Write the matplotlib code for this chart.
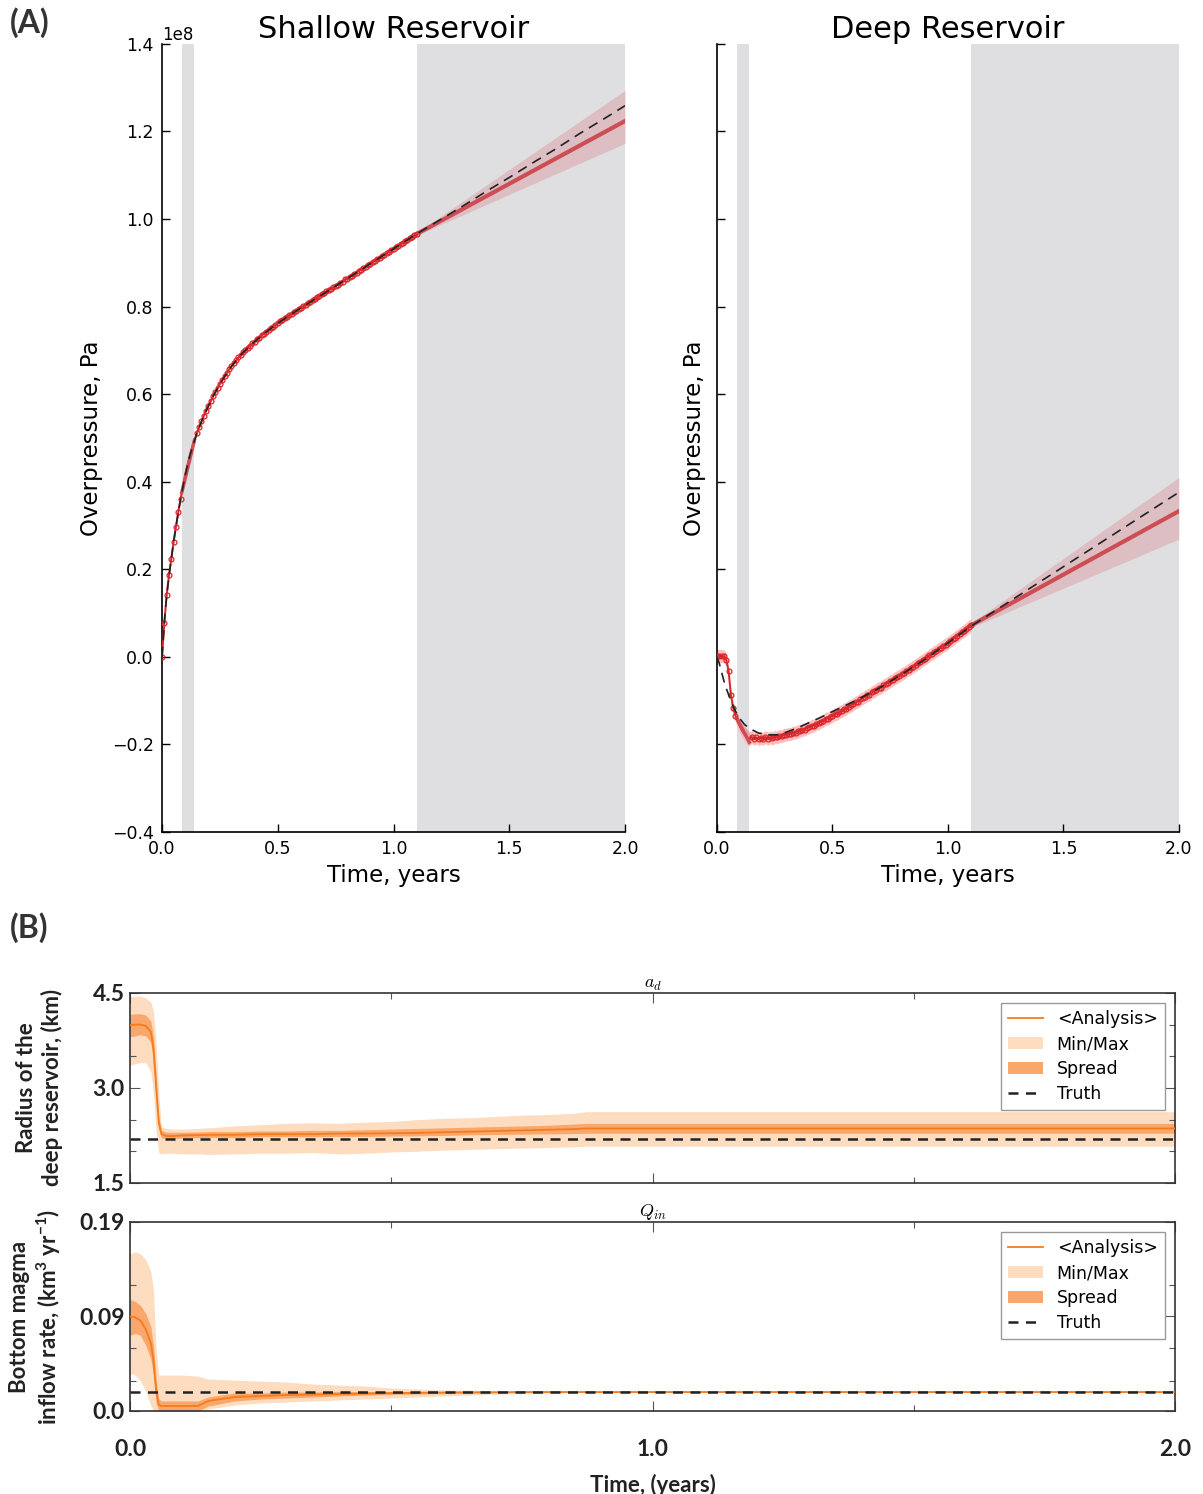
import numpy as np
import matplotlib
matplotlib.use('Agg')
import matplotlib.pyplot as plt
from matplotlib.patches import Patch
from matplotlib.lines import Line2D
from matplotlib.ticker import FixedLocator, FixedFormatter

plt.rcParams['mathtext.fontset'] = 'cm'

# ---------------- Panel A data (overpressure in units of 1e8 Pa) ----------------
PA_SCALE = 1e8
gap_window = [0.085, 0.14]
forecast_window = [1.1, 2.0]

t_truth = [0.0, 0.01, 0.02, 0.03, 0.04, 0.05, 0.06, 0.08, 0.10, 0.12, 0.15, 0.18, 0.22, 0.26,
           0.30, 0.35, 0.40, 0.45, 0.50, 0.60, 0.70, 0.80, 0.90, 1.00, 1.10,
           1.20, 1.30, 1.40, 1.50, 1.60, 1.70, 1.80, 1.90, 2.00]
shallow_truth = [0.0, 0.080, 0.140, 0.185, 0.225, 0.262, 0.298, 0.360, 0.415, 0.460, 0.510, 0.550,
                 0.595, 0.632, 0.664, 0.695, 0.720, 0.742, 0.762, 0.797, 0.830, 0.864, 0.898,
                 0.932, 0.966, 0.998, 1.030, 1.063, 1.095, 1.128, 1.160, 1.194, 1.226, 1.259]
deep_truth = [0.0, -0.015, -0.035, -0.055, -0.072, -0.086, -0.100, -0.124, -0.142, -0.155, -0.166,
              -0.174, -0.178, -0.178, -0.172, -0.162, -0.150, -0.138, -0.125, -0.100, -0.072,
              -0.040, -0.006, 0.032, 0.070, 0.104, 0.138, 0.172, 0.206, 0.240, 0.274, 0.308,
              0.342, 0.376]

t_est = [round(0.01 * i, 2) for i in range(111)]
shallow_est = [0.000, 0.078, 0.141, 0.186, 0.224, 0.263, 0.297, 0.331, 0.361, 0.389,
               0.416, 0.439, 0.460, 0.479, 0.495, 0.511, 0.524, 0.538, 0.550, 0.562,
               0.574, 0.584, 0.595, 0.605, 0.614, 0.624, 0.632, 0.641, 0.648, 0.657,
               0.664, 0.671, 0.677, 0.684, 0.689, 0.696, 0.700, 0.706, 0.710, 0.716,
               0.720, 0.726, 0.729, 0.735, 0.738, 0.743, 0.746, 0.751, 0.754, 0.759,
               0.762, 0.767, 0.769, 0.774, 0.776, 0.781, 0.783, 0.788, 0.790, 0.795,
               0.797, 0.801, 0.804, 0.808, 0.810, 0.815, 0.817, 0.821, 0.824, 0.828,
               0.830, 0.835, 0.837, 0.841, 0.844, 0.848, 0.850, 0.855, 0.857, 0.862,
               0.864, 0.868, 0.870, 0.875, 0.877, 0.882, 0.884, 0.888, 0.891, 0.896,
               0.898, 0.902, 0.905, 0.909, 0.911, 0.916, 0.918, 0.922, 0.925, 0.930,
               0.932, 0.936, 0.939, 0.943, 0.945, 0.950, 0.952, 0.956, 0.959, 0.964,
               0.966]
deep_est = [0.002, 0.002, 0.002, 0.001, -0.006, -0.032, -0.086, -0.117, -0.134, -0.148,
            -0.160, -0.170, -0.178, -0.185, -0.187, -0.183, -0.187, -0.184, -0.188, -0.185,
            -0.187, -0.183, -0.187, -0.184, -0.186, -0.183, -0.184, -0.181, -0.181, -0.178,
            -0.178, -0.176, -0.176, -0.173, -0.173, -0.170, -0.169, -0.166, -0.166, -0.162,
            -0.161, -0.158, -0.157, -0.153, -0.152, -0.148, -0.146, -0.141, -0.141, -0.137,
            -0.135, -0.131, -0.130, -0.126, -0.124, -0.120, -0.118, -0.114, -0.111, -0.108,
            -0.104, -0.102, -0.097, -0.095, -0.091, -0.088, -0.086, -0.081, -0.079, -0.075,
            -0.072, -0.070, -0.065, -0.063, -0.059, -0.056, -0.053, -0.049, -0.046, -0.043,
            -0.039, -0.037, -0.032, -0.029, -0.026, -0.022, -0.019, -0.015, -0.011, -0.008,
            -0.004, -0.001, 0.004, 0.007, 0.011, 0.014, 0.018, 0.021, 0.025, 0.028,
            0.032, 0.036, 0.040, 0.044, 0.048, 0.052, 0.056, 0.060, 0.064, 0.068,
            0.072]
shallow_est_halfwidth = 0.005
deep_est_halfwidth = 0.015

t_fc = [1.1, 2.0]
shallow_fc = [0.966, 1.224]
shallow_fc_lo = [0.963, 1.173]
shallow_fc_hi = [0.969, 1.294]
deep_fc = [0.072, 0.333]
deep_fc_lo = [0.067, 0.269]
deep_fc_hi = [0.077, 0.410]

gap_t = [0.085, 0.14]
deep_gap = [-0.140, -0.195]
deep_gap_lo = [-0.140, -0.205]
deep_gap_hi = [-0.140, -0.170]
shallow_gap = [0.375, 0.495]
shallow_gap_lo = [0.372, 0.488]
shallow_gap_hi = [0.378, 0.502]

yticks_A = [-0.4, -0.2, 0.0, 0.2, 0.4, 0.6, 0.8, 1.0, 1.2, 1.4]
xticks_A = [0.0, 0.5, 1.0, 1.5, 2.0]

# ---------------- Panel B data ----------------
tb = [0.0, 0.01, 0.02, 0.03, 0.04, 0.045, 0.05, 0.055, 0.06, 0.07, 0.08, 0.10, 0.13, 0.15,
      0.20, 0.25, 0.30, 0.35, 0.40, 0.45, 0.50, 0.55, 0.60, 0.65, 0.70, 0.75, 0.80, 0.85,
      0.875, 0.90, 1.00, 1.20, 1.40, 1.60, 1.80, 2.00]
a_mean = [3.99, 4.00, 4.00, 3.98, 3.88, 3.60, 3.00, 2.45, 2.27, 2.24, 2.24, 2.25, 2.255, 2.26,
          2.26, 2.27, 2.27, 2.27, 2.28, 2.28, 2.285, 2.29, 2.30, 2.31, 2.32, 2.33, 2.34, 2.35,
          2.36, 2.36, 2.36, 2.36, 2.36, 2.36, 2.36, 2.36]
a_sp_lo = [3.81, 3.82, 3.84, 3.82, 3.72, 3.40, 2.80, 2.35, 2.21, 2.20, 2.20, 2.21, 2.215, 2.22,
           2.22, 2.23, 2.23, 2.23, 2.235, 2.235, 2.24, 2.245, 2.25, 2.26, 2.265, 2.27, 2.275,
           2.28, 2.285, 2.285, 2.285, 2.285, 2.285, 2.285, 2.285, 2.285]
a_sp_hi = [4.16, 4.17, 4.17, 4.15, 4.05, 3.80, 3.20, 2.55, 2.33, 2.30, 2.30, 2.30, 2.305, 2.31,
           2.31, 2.32, 2.32, 2.33, 2.33, 2.34, 2.35, 2.36, 2.37, 2.38, 2.39, 2.40, 2.41, 2.43,
           2.44, 2.44, 2.44, 2.44, 2.44, 2.44, 2.44, 2.44]
a_min = [3.36, 3.38, 3.40, 3.40, 3.25, 2.90, 2.30, 1.98, 1.96, 1.97, 1.97, 1.96, 1.96, 1.95,
         1.96, 1.97, 1.97, 1.98, 1.96, 1.97, 1.99, 2.00, 2.02, 2.03, 2.04, 2.05, 2.06, 2.07,
         2.08, 2.08, 2.08, 2.08, 2.08, 2.08, 2.08, 2.08]
a_max = [4.44, 4.45, 4.45, 4.42, 4.35, 4.20, 3.70, 2.90, 2.38, 2.36, 2.35, 2.35, 2.36, 2.37,
         2.40, 2.42, 2.44, 2.45, 2.44, 2.46, 2.47, 2.50, 2.52, 2.53, 2.55, 2.57, 2.58, 2.60,
         2.625, 2.625, 2.625, 2.625, 2.625, 2.625, 2.625, 2.625]
a_truth = 2.19

q_mean = [0.095, 0.094, 0.091, 0.082, 0.068, 0.050, 0.020, 0.006, 0.005, 0.005, 0.005, 0.005,
          0.005, 0.010, 0.014, 0.015, 0.016, 0.0165, 0.017, 0.0175, 0.018, 0.0182, 0.0185,
          0.0187, 0.0188, 0.019, 0.019, 0.019, 0.019, 0.019, 0.019, 0.019, 0.019, 0.019,
          0.019, 0.019]
q_sp_lo = [0.076, 0.078, 0.076, 0.066, 0.052, 0.035, 0.008, 0.0, 0.0, 0.0, 0.0, 0.0, 0.0,
           0.005, 0.010, 0.012, 0.013, 0.014, 0.015, 0.016, 0.0165, 0.017, 0.0175, 0.018,
           0.0183, 0.0185, 0.0187, 0.0188, 0.0188, 0.0188, 0.0188, 0.0188, 0.0188, 0.0188,
           0.0188, 0.0188]
q_sp_hi = [0.112, 0.110, 0.106, 0.098, 0.084, 0.065, 0.032, 0.012, 0.010, 0.010, 0.010, 0.010,
           0.010, 0.014, 0.018, 0.018, 0.019, 0.019, 0.0195, 0.0195, 0.0195, 0.0195, 0.0195,
           0.0195, 0.0194, 0.0193, 0.0192, 0.0192, 0.0192, 0.0192, 0.0192, 0.0192, 0.0192,
           0.0192, 0.0192, 0.0192]
q_min = [0.038, 0.036, 0.030, 0.020, 0.005, 0.0, 0.0, 0.0, 0.0, 0.0, 0.0, 0.0, 0.0, 0.002,
         0.006, 0.008, 0.009, 0.010, 0.011, 0.012, 0.013, 0.014, 0.015, 0.016, 0.017, 0.0175,
         0.018, 0.0183, 0.0185, 0.0185, 0.0185, 0.0185, 0.0185, 0.0185, 0.0185, 0.0185]
q_max = [0.158, 0.160, 0.158, 0.152, 0.140, 0.120, 0.060, 0.036, 0.036, 0.036, 0.036, 0.036,
         0.035, 0.032, 0.031, 0.030, 0.029, 0.027, 0.026, 0.025, 0.023, 0.022, 0.021, 0.021,
         0.020, 0.020, 0.0198, 0.0196, 0.0195, 0.0195, 0.0195, 0.0195, 0.0195, 0.0195,
         0.0195, 0.0195]
q_truth = 0.019

a_ticks = [1.5, 3.0, 4.5]
a_ticklabels = ['1.5', '3.0', '4.5']
a_minor = [2.0, 2.5, 3.5, 4.0]
q_ticks = [0.0, 0.095, 0.19]
q_ticklabels = ['0.0', '0.09', '0.19']
q_minor = [0.03, 0.063, 0.127]
xticks_B = [0.0, 1.0, 2.0]
xticklabels_B = ['0.0', '1.0', '2.0']
xminor_B = [0.5, 1.5]

legend_labels = ['<Analysis>', 'Min/Max', 'Spread', 'Truth']

# ---------------- styles ----------------
GRAY = '#dfdfe2'
RED = '#d9262c'
RED_BAND = '#ffb0b0'
FC_RED = '#cc4e54'
FC_BAND = '#d9838a'
OR_LINE = '#f47b20'
OR_LIGHT = '#fddcbf'
OR_SPREAD = '#f9a76a'
BFONT = 'Lato'

fig = plt.figure(figsize=(12.03, 14.94), dpi=100)

axA1 = fig.add_axes([0.1347, 0.4431, 0.3849, 0.5275])
axA2 = fig.add_axes([0.5960, 0.4431, 0.3840, 0.5275], sharey=axA1)

def draw_A(ax, truth, est, hw, gap_v, gap_lo, gap_hi, fc, fc_lo, fc_hi, title):
    ax.axvspan(gap_window[0], gap_window[1], color=GRAY, lw=0, zorder=0)
    ax.axvspan(forecast_window[0], forecast_window[1], color=GRAY, lw=0, zorder=0)
    s = PA_SCALE
    te = np.array(t_est)
    ev = np.array(est)
    ax.fill_between(te, (ev - hw) * s, (ev + hw) * s, color=RED_BAND, alpha=0.8, lw=0, zorder=2)
    mask = (te < gap_window[0]) | (te > gap_window[1])
    ax.plot(te, ev * s, color=RED, lw=1.4, zorder=3)
    idx = [i for i in range(len(te)) if mask[i]]
    ax.plot(te, ev * s, ls='none', marker='o', ms=3.5, mfc='none', mec=RED, mew=0.9,
            markevery=idx, zorder=4)
    ax.fill_between(gap_t, np.array(gap_lo) * s, np.array(gap_hi) * s, color=FC_BAND,
                    alpha=0.5, lw=0, zorder=3)
    ax.plot(gap_t, np.array(gap_v) * s, color=FC_RED, lw=2.5, zorder=3)
    ax.fill_between(t_fc, np.array(fc_lo) * s, np.array(fc_hi) * s, color=FC_BAND,
                    alpha=0.35, lw=0, zorder=2)
    ax.plot(t_fc, np.array(fc) * s, color=FC_RED, lw=3, zorder=3)
    ax.plot(t_truth, np.array(truth) * s, color='#222222', ls=(0, (6, 4)), lw=1.2, zorder=5)
    ax.set_xlim(0, 2.0)
    ax.set_ylim(-0.4 * s, 1.4 * s)
    ax.set_xticks(xticks_A)
    ax.set_yticks([v * s for v in yticks_A])
    for sp in ['top', 'right']:
        ax.spines[sp].set_visible(False)
    ax.spines['left'].set_linewidth(1.2)
    ax.spines['bottom'].set_linewidth(1.2)
    ax.tick_params(direction='in', length=6, width=1, labelsize=12.5, top=False, right=False,
                   pad=6)
    ax.set_title(title, fontsize=22, pad=3)
    ax.set_xlabel('Time, years', fontsize=16.5, labelpad=4)
    ax.set_ylabel('Overpressure, Pa', fontsize=16.5, labelpad=6)

draw_A(axA1, shallow_truth, shallow_est, shallow_est_halfwidth, shallow_gap, shallow_gap_lo,
       shallow_gap_hi, shallow_fc, shallow_fc_lo, shallow_fc_hi, 'Shallow Reservoir')
draw_A(axA2, deep_truth, deep_est, deep_est_halfwidth, deep_gap, deep_gap_lo, deep_gap_hi,
       deep_fc, deep_fc_lo, deep_fc_hi, 'Deep Reservoir')
axA1.yaxis.offsetText.set_fontsize(12)
axA2.tick_params(labelleft=False)
axA2.yaxis.offsetText.set_visible(False)
axA2.set_ylabel('Overpressure, Pa', fontsize=16.5, labelpad=8)

# ---------------- Panel B ----------------
axB1 = fig.add_axes([0.1081, 0.2082, 0.8687, 0.1272])
axB2 = fig.add_axes([0.1081, 0.0556, 0.8687, 0.1265])

def draw_B(ax, mn, mx, lo, hi, mean, truth, ylim, ticks, ticklabels, minor, title, ylabel,
           show_x):
    ax.fill_between(tb, mn, mx, color=OR_LIGHT, lw=0, zorder=1)
    ax.fill_between(tb, lo, hi, color=OR_SPREAD, lw=0, zorder=2)
    ax.plot(tb, mean, color=OR_LINE, lw=1.3, zorder=3)
    ax.axhline(truth, color='#222222', ls=(0, (4, 3)), lw=1.8, zorder=4)
    ax.set_xlim(0, 2.0)
    ax.set_ylim(*ylim)
    ax.yaxis.set_major_locator(FixedLocator(ticks))
    ax.yaxis.set_major_formatter(FixedFormatter(ticklabels))
    ax.yaxis.set_minor_locator(FixedLocator(minor))
    ax.xaxis.set_major_locator(FixedLocator(xticks_B))
    ax.xaxis.set_minor_locator(FixedLocator(xminor_B))
    ax.xaxis.set_major_formatter(FixedFormatter(xticklabels_B))
    ax.tick_params(which='both', direction='in', top=True, right=True, color='#555555')
    ax.tick_params(which='major', length=7, width=0.8)
    ax.tick_params(which='minor', length=4, width=0.8)
    ax.tick_params(axis='y', labelsize=16.5, pad=4)
    ax.tick_params(axis='x', labelsize=16.5, pad=20, labelbottom=show_x)
    for lab in ax.get_xticklabels() + ax.get_yticklabels():
        lab.set_fontfamily(BFONT)
        lab.set_fontweight('bold')
        lab.set_color('#222222')
    for sp in ax.spines.values():
        sp.set_color('#333333')
        sp.set_linewidth(1.2)
    ax.set_title(title, fontsize=13, pad=3)
    ax.set_ylabel(ylabel, fontsize=16, fontfamily=BFONT, fontweight='bold',
                  color='#222222', linespacing=1.2)
    ax.yaxis.set_label_coords(-0.064, 0.5)
    handles = [Line2D([], [], color=OR_LINE, lw=1.3),
               Patch(facecolor=OR_LIGHT, edgecolor='none'),
               Patch(facecolor=OR_SPREAD, edgecolor='none'),
               Line2D([], [], color='#222222', ls=(0, (4, 3)), lw=1.8)]
    leg = ax.legend(handles, legend_labels, loc='upper right', fontsize=12.5, fancybox=False,
                    framealpha=1, edgecolor='#999999', borderaxespad=0.6, labelspacing=0.4,
                    handlelength=2.0, handletextpad=0.8, borderpad=0.4)
    leg.get_frame().set_linewidth(1.0)

draw_B(axB1, a_min, a_max, a_sp_lo, a_sp_hi, a_mean, a_truth, (1.5, 4.5), a_ticks,
       a_ticklabels, a_minor, '$a_d$', 'Radius of the\ndeep reservoir, (km)', False)
draw_B(axB2, q_min, q_max, q_sp_lo, q_sp_hi, q_mean, q_truth, (0.0, 0.19), q_ticks,
       q_ticklabels, q_minor, '$Q_{in}$',
       'Bottom magma\ninflow rate, (km$\\mathregular{^3}$ yr$\\mathregular{^{-1}}$)', True)
axB2.set_xlabel('Time, (years)', fontsize=16, fontfamily=BFONT, fontweight='bold',
                color='#222222', labelpad=10)

fig.text(0.008, 0.985, '(A)', fontsize=23, fontfamily=BFONT, fontweight='bold',
         color='#333333', va='center')
fig.text(0.008, 0.379, '(B)', fontsize=23, fontfamily=BFONT, fontweight='bold',
         color='#333333', va='center')

fig.savefig('out.png', dpi=100)
